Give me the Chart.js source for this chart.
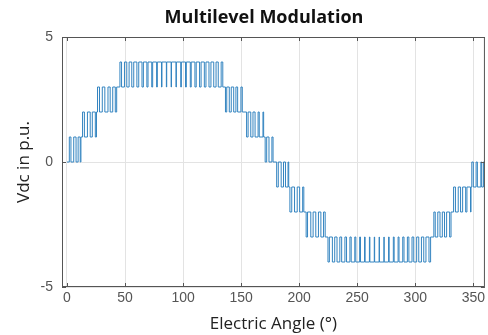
<!DOCTYPE html>
<html>
<head>
<meta charset="utf-8">
<script src="https://cdn.jsdelivr.net/npm/chart.js@4.4.0/dist/chart.umd.min.js"></script>
<style>
  html, body { margin: 0; padding: 0; background: #fff; }
  #wrap { width: 488px; height: 335px; position: relative; }
</style>
</head>
<body>
<div id="wrap"><canvas id="grafica"></canvas></div>
<script>
// switching instants (deg) and the level the output takes after each one
const switchAngle = [
  0, 2.0, 3.4, 5.8, 7.8, 9.6, 11.4, 12.0,
  13.4, 15.0, 17.6, 20.0, 21.8, 24.4, 25.4,
  26.3, 28.0, 30.4, 32.6, 35.3, 37.2, 39.4, 41.6, 42.8,
  45.6, 47.0, 49.5, 51.5, 53.5, 55.8, 57.5, 60.2, 61.8, 64.6, 65.8, 68.8,
  69.8, 73.0, 73.8, 77.2, 77.8, 81.4, 81.8, 85.6, 85.9, 89.7, 90.0, 93.9,
  94.2, 98.0, 98.5, 102.1, 102.8, 106.2, 107.0, 110.2, 111.3, 114.2,
  115.5, 118.3, 119.7, 122.3, 124.0, 126.4, 128.4, 130.3, 132.8, 134.2,
  136.5, 137.6, 139.8, 141.5, 143.6, 145.5, 147.0, 149.8, 151.0,
  154.7, 156.0, 158.3, 160.2, 162.0, 164.6, 165.6, 168.8, 169.4,
  170.7, 172.0, 174.0, 176.5, 177.5,
  180.6, 182.0, 184.5, 186.5, 188.2, 190.4, 191.0,
  192.0, 193.6, 196.0, 198.3, 200.4, 203.0, 204.0,
  206.0, 207.2, 210.0, 212.0, 214.3, 216.6, 218.7, 221.0, 222.4,
  224.8, 226.0, 228.6, 230.6, 232.6, 235.0, 236.6, 239.4, 240.8, 243.7,
  244.8, 247.9, 248.8, 252.1, 252.8, 256.3, 256.8, 260.5, 260.9, 264.7,
  265.0, 268.9, 269.1, 273.0, 273.2, 277.0, 277.5, 281.1, 281.8, 285.2,
  286.0, 289.2, 290.3, 293.2, 294.5, 297.2, 298.7, 301.2, 303.0, 305.3,
  307.3, 309.2, 311.8, 313.2,
  316.0, 317.2, 319.4, 321.3, 323.3, 325.2, 327.0, 329.6, 330.8,
  333.0, 334.6, 337.0, 339.0, 340.8, 343.4, 344.5, 347.6, 348.0,
  348.7, 350.0, 352.4, 353.5, 356.5, 357.2, 358.7, 360
];
const switchLevel = [
  0, 1, 0, 1, 0, 1, 0, 1,
  2, 1, 2, 1, 2, 1, 2,
  3, 2, 3, 2, 3, 2, 3, 2, 3,
  4, 3, 4, 3, 4, 3, 4, 3, 4, 3, 4, 3,
  4, 3, 4, 3, 4, 3, 4, 3, 4, 3, 4, 3,
  4, 3, 4, 3, 4, 3, 4, 3, 4, 3,
  4, 3, 4, 3, 4, 3, 4, 3, 4, 3,
  2, 3, 2, 3, 2, 3, 2, 3, 2,
  1, 2, 1, 2, 1, 2, 1, 2, 1,
  0, 1, 0, 1, 0,
  -1, 0, -1, 0, -1, 0, -1,
  -2, -1, -2, -1, -2, -1, -2,
  -3, -2, -3, -2, -3, -2, -3, -2, -3,
  -4, -3, -4, -3, -4, -3, -4, -3, -4, -3,
  -4, -3, -4, -3, -4, -3, -4, -3, -4, -3,
  -4, -3, -4, -3, -4, -3, -4, -3, -4, -3,
  -4, -3, -4, -3, -4, -3, -4, -3, -4, -3,
  -4, -3, -4, -3,
  -2, -3, -2, -3, -2, -3, -2, -3, -2,
  -1, -2, -1, -2, -1, -2, -1, -2, -1,
  0, -1, 0, -1, 0, -1, 0, 0
];
const xTickStep = 50;
const yTickStep = 5;

const puntos = switchAngle.map((a, i) => ({ x: a, y: switchLevel[i] }));

// caja estilo matlab con ticks hacia dentro + titulo
const cajaPlugin = {
  id: 'caja',
  afterDraw(chart) {
    const ctx = chart.ctx;
    const a = chart.chartArea;
    const sx = chart.scales.x, sy = chart.scales.y;
    ctx.save();
    ctx.strokeStyle = '#555';
    ctx.lineWidth = 1;
    ctx.strokeRect(a.left + 0.5, a.top + 0.5, a.right - a.left - 1, a.bottom - a.top - 1);
    ctx.beginPath();
    sx.ticks.forEach(t => {
      const px = Math.round(sx.getPixelForValue(t.value)) + 0.5;
      ctx.moveTo(px, a.bottom); ctx.lineTo(px, a.bottom - 4);
      ctx.moveTo(px, a.top); ctx.lineTo(px, a.top + 4);
    });
    sy.ticks.forEach(t => {
      const py = Math.round(sy.getPixelForValue(t.value)) + 0.5;
      ctx.moveTo(a.left, py); ctx.lineTo(a.left + 4, py);
      ctx.moveTo(a.right, py); ctx.lineTo(a.right - 4, py);
    });
    ctx.stroke();
    ctx.fillStyle = '#111';
    ctx.font = 'bold 18px "Open Sans"';
    ctx.textAlign = 'center';
    ctx.textBaseline = 'middle';
    ctx.fillText('Multilevel Modulation', 264, 18);
    ctx.restore();
  }
};

new Chart(document.getElementById('grafica').getContext('2d'), {
  type: 'line',
  data: {
    datasets: [{
      data: puntos,
      stepped: true,
      borderColor: '#3384c0',
      borderWidth: 1,
      pointRadius: 0,
      fill: false
    }]
  },
  options: {
    responsive: true,
    maintainAspectRatio: false,
    animation: false,
    layout: { padding: { top: 37, right: 0, left: 0, bottom: 0 } },
    plugins: {
      legend: { display: false },
      tooltip: { enabled: false },
      title: { display: false }
    },
    scales: {
      x: {
        type: 'linear',
        min: -4.3,
        max: 360,
        afterFit: s => { s.height = 48; },
        grid: { color: '#e3e3e3', drawTicks: false },
        border: { display: false },
        ticks: {
          stepSize: xTickStep,
          includeBounds: false,
          padding: 3,
          color: '#555',
          font: { family: 'Liberation Sans', size: 14 }
        },
        title: {
          display: true,
          text: 'Electric Angle (°)',
          color: '#222',
          font: { family: 'Open Sans', size: 17 },
          padding: { top: 0, bottom: 1 }
        }
      },
      y: {
        min: -5,
        max: 5,
        afterFit: s => { s.width = 62; },
        grid: { color: '#e3e3e3', drawTicks: false },
        border: { display: false },
        ticks: {
          stepSize: yTickStep,
          padding: 9,
          color: '#555',
          font: { family: 'Liberation Sans', size: 14 }
        },
        title: {
          display: true,
          text: 'Vdc in p.u.',
          color: '#222',
          font: { family: 'Open Sans', size: 17 },
          padding: { top: 14, bottom: 0 }
        }
      }
    }
  },
  plugins: [cajaPlugin]
});
</script>
</body>
</html>
